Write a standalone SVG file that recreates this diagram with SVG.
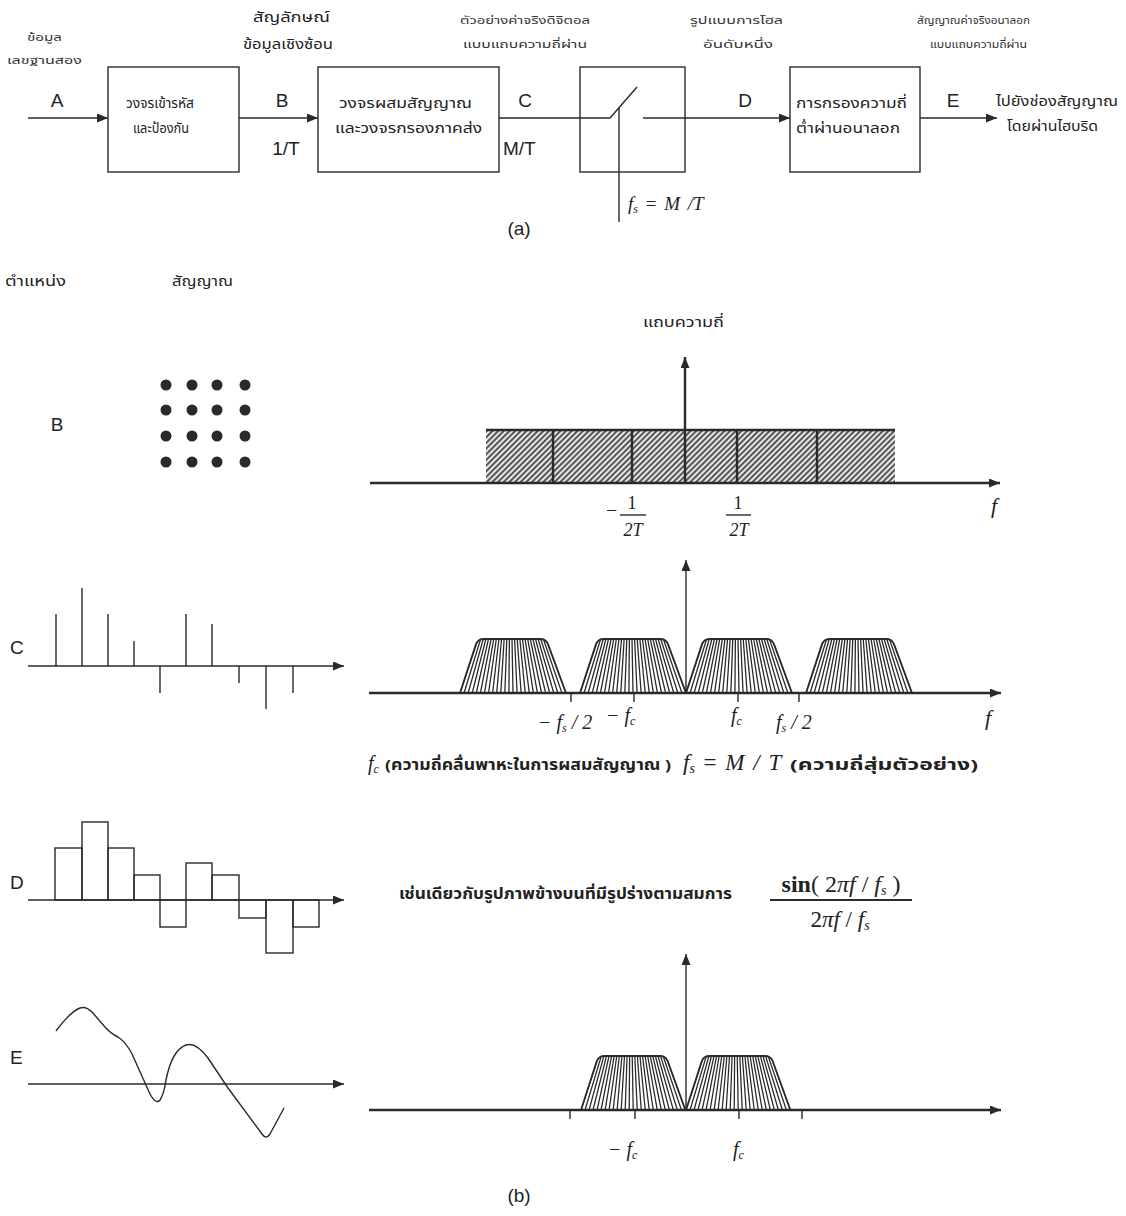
<svg xmlns="http://www.w3.org/2000/svg" xmlns:xlink="http://www.w3.org/1999/xlink" width="1126" height="1216" viewBox="0 0 1126 1216">
  <style>
    .ln { stroke:#2a2a2a; stroke-width:1.4; fill:none; }
    .thk { stroke:#2a2a2a; stroke-width:2.4; fill:none; }
    .box { fill:none; stroke:#2a2a2a; stroke-width:1.4; }
    .lbl { font-family:"Liberation Sans", Arial, sans-serif; font-size:19px; fill:#222; }
    .th { font-family:"Noto Sans Thai", "Noto Sans", "DejaVu Sans", sans-serif; font-size:14px; fill:#222; }
    .ths { font-family:"Noto Sans Thai", "Noto Sans", "DejaVu Sans", sans-serif; font-size:11px; fill:#333; }
    .thb { font-family:"Noto Sans Thai", "Noto Sans", "DejaVu Sans", sans-serif; font-size:15px; font-weight:bold; fill:#222; }
    .m { font-family:"Liberation Serif", "Times New Roman", serif; font-style:italic; fill:#222; }
    .mr { font-family:"Liberation Serif", "Times New Roman", serif; fill:#222; }
    .dot { fill:#2a2a2a; }
  </style>
  <defs>
    <marker id="ah" markerUnits="userSpaceOnUse" markerWidth="11" markerHeight="9" refX="11" refY="4.5" orient="auto">
      <path d="M0,0 L11,4.5 L0,9 Z" fill="#2a2a2a"/>
    </marker>
    <pattern id="diag" width="4" height="4" patternUnits="userSpaceOnUse" patternTransform="rotate(45)">
      <rect width="4" height="4" fill="#e6e6e6"/>
      <line x1="1" y1="0" x2="1" y2="4" stroke="#333" stroke-width="1.6"/>
    </pattern>
    <clipPath id="lobeClip">
      <path d="M0,0 L16,-49 Q18,-54 24,-54 L80,-54 Q86,-54 88,-49 L106,0 Z"/>
    </clipPath>
    <!-- one spectral lobe, base on the axis at y=0, 106 wide -->
    <g id="lobe">
      <path clip-path="url(#lobeClip)" stroke="#2a2a2a" stroke-width="1.3" fill="none"
        d="M0,0 L18,-54 M4.08,0 L20.62,-54 M8.15,0 L23.23,-54 M12.23,0 L25.85,-54 M16.31,0 L28.46,-54 M20.38,0 L31.08,-54 M24.46,0 L33.69,-54 M28.54,0 L36.31,-54 M32.62,0 L38.92,-54 M36.69,0 L41.54,-54 M40.77,0 L44.15,-54 M44.85,0 L46.77,-54 M48.92,0 L49.38,-54 M53,0 L52,-54 M57.08,0 L54.62,-54 M61.15,0 L57.23,-54 M65.23,0 L59.85,-54 M69.31,0 L62.46,-54 M73.38,0 L65.08,-54 M77.46,0 L67.69,-54 M81.54,0 L70.31,-54 M85.62,0 L72.92,-54 M89.69,0 L75.54,-54 M93.77,0 L78.15,-54 M97.85,0 L80.77,-54 M101.92,0 L83.38,-54 M106,0 L86,-54"/>
      <path d="M0,0 L16,-49 Q18,-54 24,-54 L80,-54 Q86,-54 88,-49 L106,0" stroke="#2a2a2a" stroke-width="1.8" fill="none"/>
    </g>
  </defs>

  <rect width="1126" height="1216" fill="#ffffff"/>

  <!-- ===== (a) transmitter chain ===== -->
  <g id="connectors">
    <line class="ln" x1="28" y1="118" x2="108" y2="118" marker-end="url(#ah)"/>
    <line class="ln" x1="239" y1="118" x2="318" y2="118" marker-end="url(#ah)"/>
    <polyline class="ln" points="499,118 610,118 637,87"/>
    <line class="ln" x1="619" y1="108" x2="619" y2="222"/>
    <line class="ln" x1="643" y1="118" x2="790" y2="118" marker-end="url(#ah)"/>
    <line class="ln" x1="920" y1="118" x2="997" y2="118" marker-end="url(#ah)"/>
  </g>

  <g id="coder">
    <rect class="box" x="108" y="67" width="131" height="105"/>
    <text class="th" x="126" y="108" textLength="68" lengthAdjust="spacingAndGlyphs">วงจรเข้ารหัส</text>
    <text class="th" x="133" y="133" textLength="56" lengthAdjust="spacingAndGlyphs">และป้องกัน</text>
  </g>
  <g id="mixer">
    <rect class="box" x="318" y="67" width="181" height="105"/>
    <text class="th" x="339" y="108" textLength="133" lengthAdjust="spacingAndGlyphs">วงจรผสมสัญญาณ</text>
    <text class="th" x="335" y="133" textLength="147" lengthAdjust="spacingAndGlyphs">และวงจรกรองภาคส่ง</text>
  </g>
  <g id="sampler">
    <rect class="box" x="580" y="67" width="105" height="105"/>
  </g>
  <g id="lowpass">
    <rect class="box" x="790" y="67" width="130" height="105"/>
    <text class="th" x="796" y="108" textLength="111" lengthAdjust="spacingAndGlyphs">การกรองความถี่</text>
    <text class="th" x="796" y="133" textLength="104" lengthAdjust="spacingAndGlyphs">ต่ำผ่านอนาลอก</text>
  </g>

  <g id="chain-labels">
    <text class="ths" x="27" y="41" textLength="35" lengthAdjust="spacingAndGlyphs">ข้อมูล</text>
    <text class="ths" x="7" y="64" textLength="75" lengthAdjust="spacingAndGlyphs">เลขฐานสอง</text>
    <text class="lbl" x="57" y="107" text-anchor="middle">A</text>

    <text class="th" x="253" y="22" textLength="77" lengthAdjust="spacingAndGlyphs">สัญลักษณ์</text>
    <text class="th" x="243" y="49" textLength="90" lengthAdjust="spacingAndGlyphs">ข้อมูลเชิงซ้อน</text>
    <text class="lbl" x="282" y="107" text-anchor="middle">B</text>
    <text class="lbl" x="286" y="155" text-anchor="middle">1/T</text>

    <text class="ths" x="460" y="24" textLength="130" lengthAdjust="spacingAndGlyphs">ตัวอย่างค่าจริงดิจิตอล</text>
    <text class="ths" x="463" y="48" textLength="124" lengthAdjust="spacingAndGlyphs">แบบแถบความถี่ผ่าน</text>
    <text class="lbl" x="525" y="107" text-anchor="middle">C</text>
    <text class="lbl" x="503" y="155">M/T</text>

    <text class="ths" x="690" y="24" textLength="93" lengthAdjust="spacingAndGlyphs">รูปแบบการโฮล</text>
    <text class="ths" x="703" y="48" textLength="70" lengthAdjust="spacingAndGlyphs">อันดับหนึ่ง</text>
    <text class="lbl" x="745" y="107" text-anchor="middle">D</text>

    <text class="m" x="628" y="210" font-size="19" word-spacing="3">f<tspan font-size="12" dy="3">s</tspan><tspan dy="-3" font-style="normal"> = </tspan>M  /T</text>

    <text class="ths" x="917" y="24" textLength="113" lengthAdjust="spacingAndGlyphs">สัญญาณค่าจริงอนาลอก</text>
    <text class="ths" x="930" y="48" textLength="97" lengthAdjust="spacingAndGlyphs">แบบแถบความถี่ผ่าน</text>
    <text class="lbl" x="953" y="107" text-anchor="middle">E</text>
    <text class="th" x="996" y="106" textLength="122" lengthAdjust="spacingAndGlyphs">ไปยังช่องสัญญาณ</text>
    <text class="th" x="1007" y="131" textLength="91" lengthAdjust="spacingAndGlyphs">โดยผ่านไฮบริด</text>

    <text class="lbl" x="519" y="235" text-anchor="middle" font-size="17">(a)</text>
  </g>

  <!-- ===== (b) signals and spectra ===== -->
  <g id="headings">
    <text class="th" x="5" y="286" textLength="61" lengthAdjust="spacingAndGlyphs">ตำแหน่ง</text>
    <text class="th" x="172" y="286" textLength="61" lengthAdjust="spacingAndGlyphs">สัญญาณ</text>
  </g>

  <!-- row B: 16-point constellation and flat baseband spectrum -->
  <g id="row-b">
    <text class="lbl" x="57" y="431" text-anchor="middle">B</text>
    <g class="dot">
      <circle cx="166" cy="385" r="5.5"/><circle cx="192" cy="385" r="5.5"/><circle cx="217" cy="385" r="5.5"/><circle cx="245" cy="385" r="5.5"/>
      <circle cx="166" cy="410" r="5.5"/><circle cx="192" cy="410" r="5.5"/><circle cx="217" cy="410" r="5.5"/><circle cx="245" cy="410" r="5.5"/>
      <circle cx="166" cy="436" r="5.5"/><circle cx="192" cy="436" r="5.5"/><circle cx="217" cy="436" r="5.5"/><circle cx="245" cy="436" r="5.5"/>
      <circle cx="166" cy="462" r="5.5"/><circle cx="192" cy="462" r="5.5"/><circle cx="217" cy="462" r="5.5"/><circle cx="245" cy="462" r="5.5"/>
    </g>
    <text class="th" x="643" y="327" textLength="81" lengthAdjust="spacingAndGlyphs">แถบความถี่</text>
    <rect x="486" y="430" width="409" height="53" fill="url(#diag)"/>
    <line class="thk" x1="486" y1="430" x2="895" y2="430"/>
    <path class="thk" d="M553,430 V483 M632,430 V483 M737,430 V483 M817,430 V483"/>
    <line class="thk" x1="685" y1="483" x2="685" y2="357" marker-end="url(#ah)"/>
    <line class="thk" x1="370" y1="483" x2="1000" y2="483" marker-end="url(#ah)"/>
    <text class="mr" x="606" y="517" font-size="20">−</text>
    <text class="mr" x="632" y="509" font-size="18" text-anchor="middle">1</text>
    <line class="ln" x1="620" y1="515" x2="646" y2="515"/>
    <text class="m" x="633" y="536" font-size="18" text-anchor="middle">2T</text>
    <text class="mr" x="738" y="509" font-size="18" text-anchor="middle">1</text>
    <line class="ln" x1="726" y1="515" x2="751" y2="515"/>
    <text class="m" x="739" y="536" font-size="18" text-anchor="middle">2T</text>
    <text class="m" x="991" y="513" font-size="22">f</text>
  </g>

  <!-- row C: bandpass samples and periodic spectrum -->
  <g id="row-c">
    <text class="lbl" x="10" y="654">C</text>
    <line class="ln" x1="28" y1="666" x2="344" y2="666" marker-end="url(#ah)"/>
    <path class="ln" stroke-width="1.8" d="M56,666 V614 M82,666 V588 M108,666 V614 M134,666 V641 M160,666 V693 M186,666 V614 M212,666 V624 M239,666 V683 M266,666 V709 M293,666 V693"/>

    <use xlink:href="#lobe" transform="translate(460,693)"/>
    <use xlink:href="#lobe" transform="translate(580,693)"/>
    <use xlink:href="#lobe" transform="translate(686,693)"/>
    <use xlink:href="#lobe" transform="translate(806,693)"/>
    <line class="ln" x1="686" y1="693" x2="686" y2="560" marker-end="url(#ah)"/>
    <line class="thk" x1="369" y1="693" x2="1001" y2="693" marker-end="url(#ah)"/>
    <path class="ln" d="M571,693 V702 M634,693 V702 M738,693 V702 M799,693 V702"/>
    <text class="m" x="538" y="729" font-size="20">− f<tspan font-size="12" dy="3">s</tspan><tspan dy="-3"> / 2</tspan></text>
    <text class="m" x="606" y="722" font-size="20">− f<tspan font-size="12" dy="3">c</tspan></text>
    <text class="m" x="731" y="722" font-size="20">f<tspan font-size="12" dy="3">c</tspan></text>
    <text class="m" x="776" y="729" font-size="20">f<tspan font-size="12" dy="3">s</tspan><tspan dy="-3"> / 2</tspan></text>
    <text class="m" x="985" y="725" font-size="22">f</text>

    <text class="m" x="368" y="770" font-size="20">f<tspan font-size="12" dy="3">c</tspan></text>
    <text class="thb" x="385" y="770" textLength="286" lengthAdjust="spacingAndGlyphs">(ความถี่คลื่นพาหะในการผสมสัญญาณ )</text>
    <text class="m" x="683" y="770" font-size="23" word-spacing="3">f<tspan font-size="14" dy="3">s</tspan><tspan dy="-3" font-style="normal"> = </tspan>M / T</text>
    <text class="thb" x="790" y="770" textLength="188" lengthAdjust="spacingAndGlyphs">(ความถี่สุ่มตัวอย่าง)</text>
  </g>

  <!-- row D: first-order hold staircase -->
  <g id="row-d">
    <text class="lbl" x="10" y="889">D</text>
    <line class="ln" x1="28" y1="900" x2="344" y2="900" marker-end="url(#ah)"/>
    <g class="ln" stroke-width="1.6">
      <rect x="55" y="848" width="27" height="52"/>
      <rect x="82" y="822" width="26" height="78"/>
      <rect x="108" y="848" width="26" height="52"/>
      <rect x="134" y="875" width="26" height="25"/>
      <rect x="160" y="900" width="26" height="27"/>
      <rect x="186" y="863" width="26" height="37"/>
      <rect x="212" y="875" width="27" height="25"/>
      <rect x="239" y="900" width="27" height="18"/>
      <rect x="266" y="900" width="27" height="53"/>
      <rect x="293" y="900" width="26" height="27"/>
    </g>
    <text class="thb" x="399" y="899" textLength="333" lengthAdjust="spacingAndGlyphs">เช่นเดียวกับรูปภาพข้างบนที่มีรูปร่างตามสมการ</text>
    <text class="mr" x="841" y="892" font-size="24" text-anchor="middle"><tspan font-weight="bold">sin</tspan>( 2<tspan font-style="italic">πf</tspan> / <tspan font-style="italic">f</tspan><tspan font-size="14" font-style="italic" dy="3">s</tspan><tspan dy="-3"> )</tspan></text>
    <line x1="770" y1="900" x2="912" y2="900" stroke="#2a2a2a" stroke-width="1.8"/>
    <text class="mr" x="840" y="927" font-size="23" text-anchor="middle">2<tspan font-style="italic">πf</tspan> / <tspan font-style="italic">f</tspan><tspan font-size="14" font-style="italic" dy="3">s</tspan></text>
  </g>

  <!-- row E: analog output and filtered spectrum -->
  <g id="row-e">
    <text class="lbl" x="10" y="1064">E</text>
    <line class="ln" x1="28" y1="1084" x2="344" y2="1084" marker-end="url(#ah)"/>
    <path class="ln" stroke-width="1.7" d="M56,1031 Q70,1012 80,1008 Q86,1006 92,1012 L105,1027 Q110,1033 118,1037 Q126,1042 132,1054 L150,1094 Q156,1105 160,1100 Q164,1094 166,1080 Q172,1050 186,1045 Q196,1042 208,1058 L228,1088 L262,1134 Q266,1140 270,1134 L284,1108"/>

    <use xlink:href="#lobe" transform="translate(581,1110) scale(0.985,1)"/>
    <use xlink:href="#lobe" transform="translate(686,1110) scale(0.985,1)"/>
    <line class="ln" x1="686" y1="1110" x2="686" y2="954" marker-end="url(#ah)"/>
    <line class="thk" x1="369" y1="1110" x2="1001" y2="1110" marker-end="url(#ah)"/>
    <path class="ln" d="M570,1110 V1119 M635,1110 V1119 M739,1110 V1119 M802,1110 V1119"/>
    <text class="m" x="608" y="1156" font-size="20">− f<tspan font-size="12" dy="3">c</tspan></text>
    <text class="m" x="733" y="1156" font-size="20">f<tspan font-size="12" dy="3">c</tspan></text>

    <text class="lbl" x="519" y="1202" text-anchor="middle" font-size="17">(b)</text>
  </g>
</svg>
